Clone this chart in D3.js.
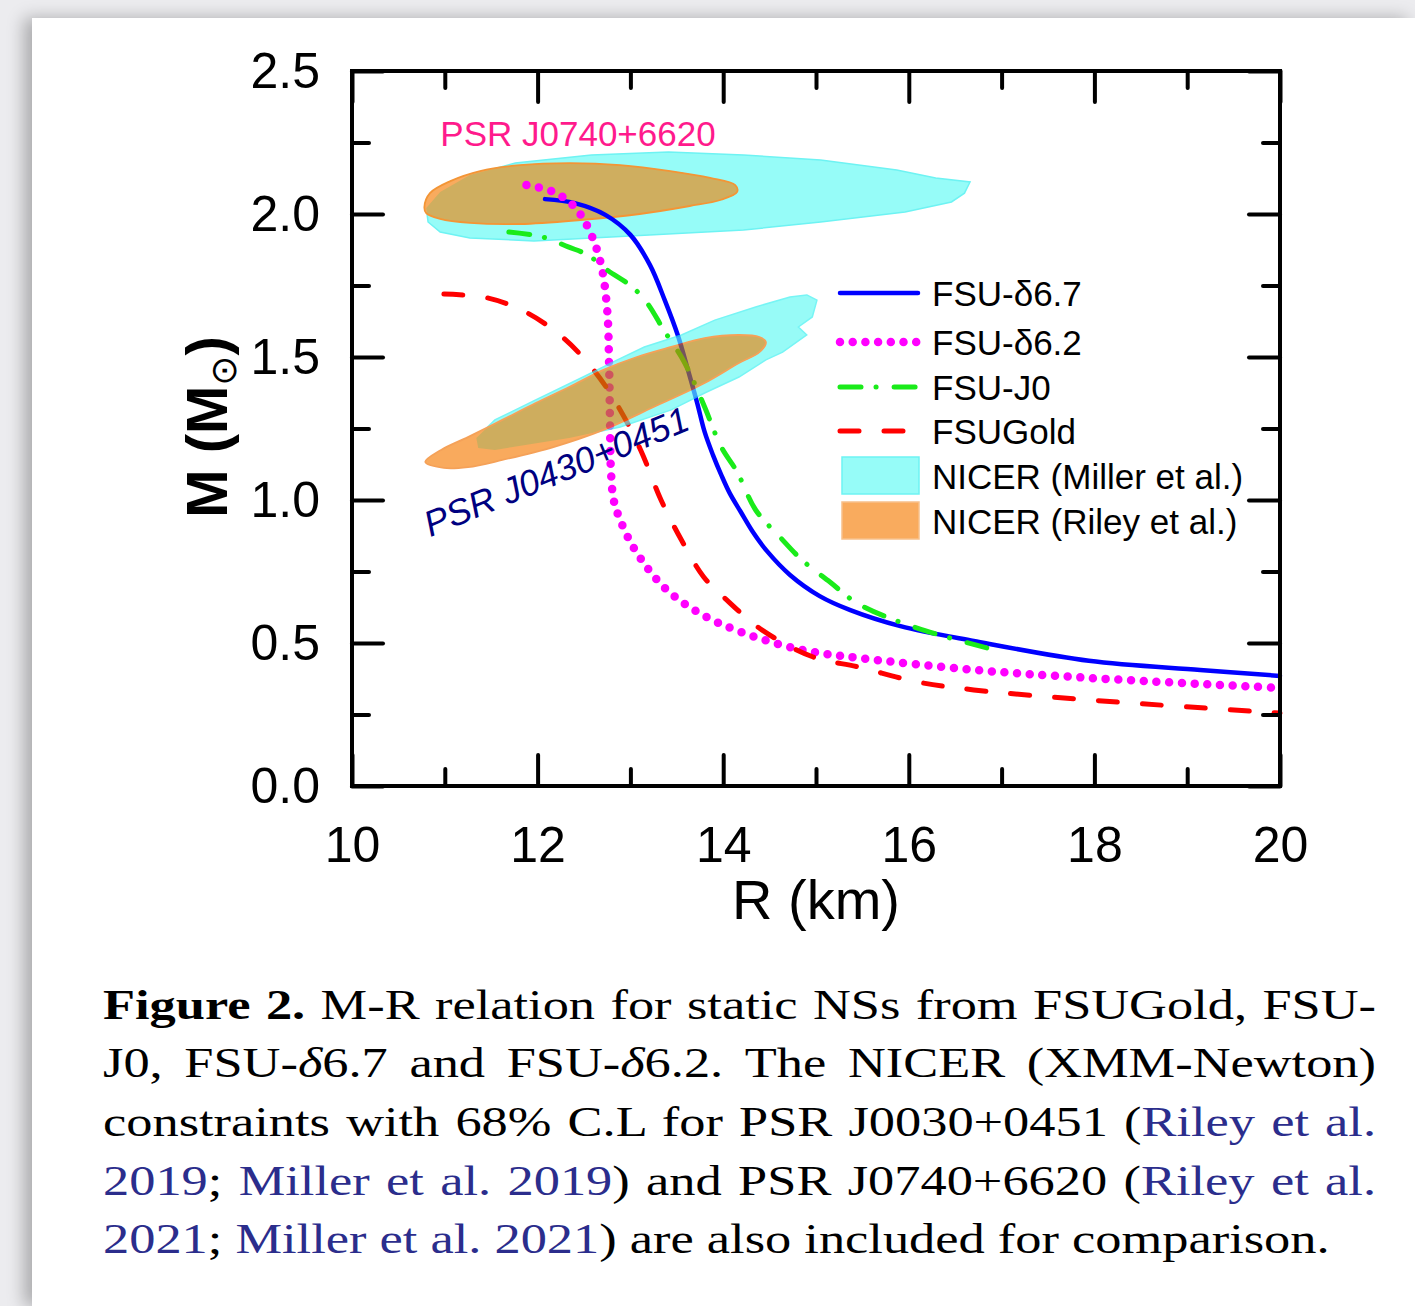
<!DOCTYPE html>
<html>
<head>
<meta charset="utf-8">
<script src="https://cdn.jsdelivr.net/npm/d3@7"></script>
<style>
body { margin:0; width:1415px; height:1306px; background:#ececef; overflow:hidden; position:relative; }
#sheet { position:absolute; left:32px; top:18px; width:1383px; height:1288px; background:#fff; box-shadow:-8px 0 16px rgba(0,0,0,0.28); }
#fig { position:absolute; left:0; top:0; }
</style>
</head>
<body>
<div id="sheet"></div>
<svg id="fig" width="1415" height="1306"></svg>
<script>
// M-R curves (R in km, M in solar masses)
let r_d67 = [12.08,12.40,12.73,13.00,13.21,13.37,13.51,13.62,13.72,13.80,13.89,13.98,14.07,14.19,14.32,14.47,14.72,15.04,15.37,15.91,16.70,17.94,19.14,20.0];
let m_d67 = [2.052,2.038,1.997,1.927,1.822,1.699,1.577,1.455,1.339,1.238,1.157,1.087,1.024,0.958,0.888,0.822,0.738,0.664,0.615,0.559,0.507,0.438,0.406,0.385];

let r_d62 = [11.88,12.17,12.39,12.54,12.68,12.75,12.77,12.78,12.79,12.82,12.89,13.05,13.36,13.74,14.22,14.85,15.46,16.70,17.94,20.0];
let m_d62 = [2.101,2.077,2.028,1.955,1.829,1.664,1.479,1.280,1.105,1.000,0.930,0.825,0.696,0.605,0.535,0.476,0.448,0.406,0.378,0.343];

let r_j0 = [11.69,12.05,12.33,12.54,12.75,13.02,13.18,13.36,13.55,13.66,13.80,13.98,14.15,14.35,14.61,14.85,15.15,15.46,16.09,16.84];
let m_j0 = [1.937,1.920,1.885,1.857,1.804,1.745,1.689,1.594,1.500,1.430,1.325,1.185,1.098,0.965,0.871,0.790,0.713,0.636,0.552,0.483];

let r_gold = [10.99,11.47,11.89,12.28,12.62,12.89,13.11,13.33,13.55,13.79,14.04,14.42,14.97,15.46,16.09,16.70,17.94,20.0];
let m_gold = [1.720,1.706,1.654,1.566,1.448,1.315,1.175,1.000,0.860,0.731,0.650,0.545,0.451,0.416,0.364,0.336,0.301,0.255];

// NICER 68% regions, outline points (R, M)
let miller_j0740 = [[10.82,1.972],[10.95,1.937],[11.27,1.916],[11.96,1.906],[13.00,1.923],[14.22,1.944],[15.05,1.972],[15.96,2.007],[16.46,2.042],[16.60,2.073],[16.66,2.112],[16.29,2.126],[15.87,2.154],[15.05,2.189],[14.22,2.206],[13.41,2.217],[12.58,2.206],[11.76,2.178],[11.27,2.136],[10.95,2.077],[10.80,2.021]];
let riley_j0740 = [[10.78,2.024],[10.84,2.073],[11.06,2.115],[11.38,2.150],[11.81,2.171],[12.35,2.178],[12.89,2.171],[13.43,2.150],[13.86,2.126],[14.13,2.101],[14.15,2.077],[13.97,2.049],[13.64,2.028],[13.10,2.000],[12.46,1.979],[11.81,1.965],[11.27,1.969],[10.95,1.983],[10.80,2.003]];
let miller_j0030 = [[14.90,1.717],[15.01,1.699],[14.96,1.640],[14.81,1.605],[14.90,1.577],[14.64,1.517],[14.46,1.490],[14.17,1.430],[13.80,1.374],[13.44,1.315],[12.89,1.255],[12.34,1.217],[11.54,1.175],[11.36,1.182],[11.34,1.217],[11.54,1.280],[11.98,1.350],[12.49,1.430],[12.86,1.490],[13.15,1.535],[13.55,1.577],[13.91,1.629],[14.35,1.675],[14.72,1.710]];
let riley_j0030 = [[10.79,1.133],[10.99,1.112],[11.25,1.115],[11.62,1.140],[12.17,1.185],[12.71,1.245],[13.25,1.325],[13.80,1.409],[14.17,1.479],[14.39,1.517],[14.46,1.552],[14.39,1.570],[14.17,1.577],[13.80,1.566],[13.44,1.535],[13.07,1.500],[12.71,1.455],[12.34,1.395],[11.98,1.339],[11.62,1.280],[11.25,1.220],[10.96,1.175]];

let series_names = ["FSU-\u03b46.7","FSU-\u03b46.2","FSU-J0","FSUGold"];
let region_names = ["NICER (Miller et al.)","NICER (Riley et al.)"];
let x_major = [10,12,14,16,18,20], x_minor = [11,13,15,17,19];
let y_major = [0,0.5,1,1.5,2,2.5], y_minor = [0.25,0.75,1.25,1.75,2.25];

let caption = [
    [{t:"Figure 2.", b:1}, {t:" M-R relation for static NSs from FSUGold, FSU-"}],
    [{t:"J0, FSU-"}, {t:"\u03b4", i:1}, {t:"6.7 and FSU-"}, {t:"\u03b4", i:1}, {t:"6.2. The NICER (XMM-Newton)"}],
    [{t:"constraints with 68% C.L for PSR J0030+0451 ("}, {t:"Riley et al.", l:1}],
    [{t:"2019", l:1}, {t:"; "}, {t:"Miller et al. 2019", l:1}, {t:") and PSR J0740+6620 ("}, {t:"Riley et al.", l:1}],
    [{t:"2021", l:1}, {t:"; "}, {t:"Miller et al. 2021", l:1}, {t:") are also included for comparison."}]
];

let zip = (a, b) => a.map((v, i) => [v, b[i]]);
let curves = [
    {pts: zip(r_d67, m_d67), color:"#0000ff", width:4.5, dash:null, cap:"round"},
    {pts: zip(r_d62, m_d62), color:"#ff00ff", width:8.5, dash:"0 12.7", cap:"round"},
    {pts: zip(r_j0, m_j0), color:"#1aeb1a", width:5, dash:"21 15 0.1 18", cap:"round"},
    {pts: zip(r_gold, m_gold), color:"#ff0000", width:5, dash:"19 25", cap:"round"}
];

let svg = d3.select("#fig");
let font = "'Liberation Sans', Arial, sans-serif";

let x = d3.scaleLinear().domain([10,20]).range([352,1280]);
let y = d3.scaleLinear().domain([0,2.5]).range([786,71]);

let line = d3.line().x(d => x(d[0])).y(d => y(d[1])).curve(d3.curveCatmullRom.alpha(0.5));
let smoothShape = d3.line().x(d => x(d[0])).y(d => y(d[1])).curve(d3.curveCatmullRomClosed.alpha(0.5));
let roughShape = d3.line().x(d => x(d[0])).y(d => y(d[1])).curve(d3.curveLinearClosed);

let defs = svg.append("defs");
defs.append("clipPath").attr("id","clipUp").append("path").attr("d", roughShape(miller_j0740));
defs.append("clipPath").attr("id","clipLow").append("path").attr("d", roughShape(miller_j0030));

function drawRegions(g, cyanPts, orangePts, clipId, cols) {
    g.append("path").attr("d", roughShape(cyanPts)).attr("fill", cols.cyan)
        .attr("stroke", cols.cyanLine).attr("stroke-width", 1.5);
    g.append("path").attr("d", smoothShape(orangePts)).attr("fill", cols.orange);
    g.append("path").attr("d", smoothShape(orangePts)).attr("fill", cols.tan)
        .attr("clip-path", "url(#" + clipId + ")");
    g.append("path").attr("d", smoothShape(orangePts)).attr("fill", "none")
        .attr("stroke", cols.orangeLine).attr("stroke-width", 1.8);
}

// upper (J0740) regions sit under the curves
drawRegions(svg.append("g"), miller_j0740, riley_j0740, "clipUp",
    {cyan:"#96fcf8", cyanLine:"#6ef3f3", orange:"#f9ab5e", tan:"#cfae5f", orangeLine:"#f39536"});

let gc = svg.append("g");
curves.forEach(c => {
    gc.append("path").attr("d", line(c.pts)).attr("fill","none")
        .attr("stroke", c.color).attr("stroke-width", c.width)
        .attr("stroke-linecap", c.cap).attr("stroke-dasharray", c.dash);
});

// lower (J0030) regions are drawn over the curves, semi-transparent
drawRegions(svg.append("g").attr("opacity", 0.65), miller_j0030, riley_j0030, "clipLow",
    {cyan:"#60faf4", cyanLine:"#30f0f0", orange:"#f67e07", tan:"#b58209", orangeLine:"#f07000"});

// frame
svg.append("rect").attr("x",352).attr("y",71).attr("width",928).attr("height",715)
    .attr("fill","none").attr("stroke","#000").attr("stroke-width",4);

function styleAxis(g) {
    g.select(".domain").remove();
    g.attr("font-family", font).attr("font-size", 50);
    g.selectAll(".tick line").attr("stroke","#000").attr("stroke-width",4).attr("stroke-linecap","round");
    g.selectAll(".tick text").attr("fill","#000");
}

svg.append("g").attr("transform","translate(0,786)")
    .call(d3.axisBottom(x).tickValues(x_major).tickSize(-31).tickPadding(40).tickFormat(d3.format("d"))).call(styleAxis);
svg.append("g").attr("transform","translate(0,786)")
    .call(d3.axisBottom(x).tickValues(x_minor).tickSize(-17).tickFormat("")).call(styleAxis);
svg.append("g").attr("transform","translate(0,71)")
    .call(d3.axisTop(x).tickValues(x_major).tickSize(-31).tickFormat("")).call(styleAxis);
svg.append("g").attr("transform","translate(0,71)")
    .call(d3.axisTop(x).tickValues(x_minor).tickSize(-17).tickFormat("")).call(styleAxis);
svg.append("g").attr("transform","translate(352,0)")
    .call(d3.axisLeft(y).tickValues(y_major).tickSize(-31).tickPadding(32).tickFormat(d3.format(".1f"))).call(styleAxis);
svg.append("g").attr("transform","translate(352,0)")
    .call(d3.axisLeft(y).tickValues(y_minor).tickSize(-17).tickFormat("")).call(styleAxis);
svg.append("g").attr("transform","translate(1280,0)")
    .call(d3.axisRight(y).tickValues(y_major).tickSize(-31).tickFormat("")).call(styleAxis);
svg.append("g").attr("transform","translate(1280,0)")
    .call(d3.axisRight(y).tickValues(y_minor).tickSize(-17).tickFormat("")).call(styleAxis);

// axis titles
svg.append("text").attr("x",816).attr("y",919).attr("text-anchor","middle")
    .attr("font-family",font).attr("font-size",56).text("R (km)");
let yt = svg.append("text").attr("transform","translate(227,427) rotate(-90)").attr("text-anchor","middle")
    .attr("font-family",font).attr("font-size",58).attr("font-weight","bold");
yt.append("tspan").text("M (M");
yt.append("tspan").attr("font-size",36).attr("font-weight","normal").attr("dy",9).attr("font-family","'DejaVu Sans', sans-serif").text("\u2299");
yt.append("tspan").attr("dy",-9).text(")");

// pulsar labels
svg.append("text").attr("x",578).attr("y",146).attr("text-anchor","middle")
    .attr("font-family",font).attr("font-size",35).attr("fill","#ff1a8c").text("PSR J0740+6620");
svg.append("text").attr("transform","translate(561,483) rotate(-22.5)").attr("text-anchor","middle")
    .attr("font-family",font).attr("font-size",36).attr("font-style","italic").attr("fill","#000080").text("PSR J0430+0451");

// legend
let lg = svg.append("g").attr("font-family",font).attr("font-size",35);
let rowY = [293,342,387,431,476,521];
curves.forEach((c, i) => {
    lg.append("line").attr("x1",840).attr("x2",918).attr("y1",rowY[i]).attr("y2",rowY[i])
        .attr("stroke",c.color).attr("stroke-width",c.width).attr("stroke-linecap",c.cap).attr("stroke-dasharray",c.dash);
    lg.append("text").attr("x",932).attr("y",rowY[i]+13).text(series_names[i]);
});
let swatch = [["#96fcf8","#6ef3f3"],["#f9ab5e","#f7c08a"]];
region_names.forEach((n, i) => {
    let cy = rowY[4+i];
    lg.append("rect").attr("x",842).attr("y",cy-19).attr("width",77).attr("height",37)
        .attr("fill",swatch[i][0]).attr("stroke",swatch[i][1]).attr("stroke-width",1.5);
    lg.append("text").attr("x",932).attr("y",cy+13).text(n);
});

// caption, justified like the paper
let cap = svg.append("g").attr("font-family","'Liberation Serif', 'Times New Roman', serif").attr("font-size",43);
let baselines = [1019,1077,1136,1195,1253];
let texts = caption.map((parts, k) => {
    let t = cap.append("text").attr("x",0).attr("y",0).attr("fill","#000");
    parts.forEach(p => {
        let s = t.append("tspan").text(p.t);
        if (p.b) s.attr("font-weight","bold");
        if (p.i) s.attr("font-style","italic");
        if (p.l) s.attr("fill","#2b2d8c");
    });
    return t;
});
let lastLen = texts[4].node().getComputedTextLength();
let sx = 1227 / lastLen;
texts.forEach((t, k) => {
    t.attr("transform","translate(103," + baselines[k] + ") scale(" + sx + ",1)");
    if (k < 4) {
        let str = caption[k].map(p => p.t).join("");
        let n = (str.match(/ /g) || []).length;
        let len = t.node().getComputedTextLength();
        let ws = (1273 / sx - len) / n;
        t.attr("word-spacing", ws);
    }
});
</script>
</body>
</html>
